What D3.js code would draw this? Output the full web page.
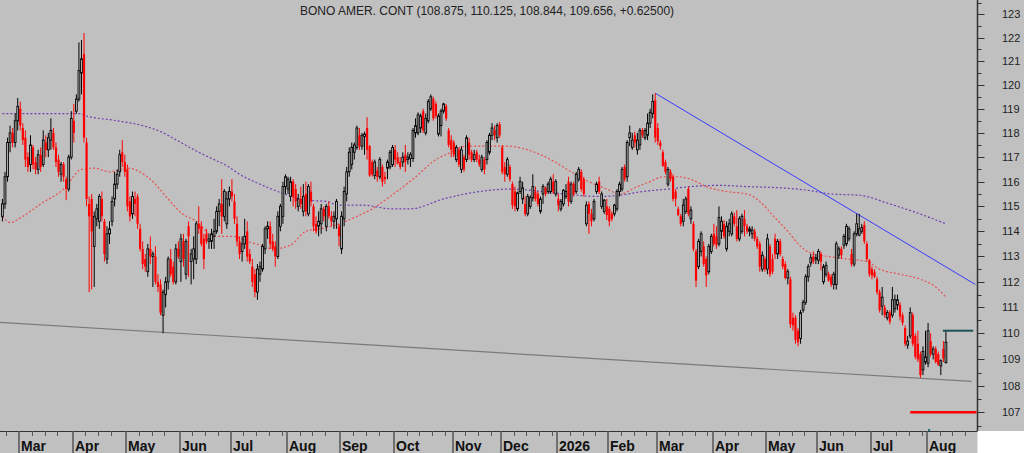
<!DOCTYPE html>
<html>
<head>
<meta charset="utf-8">
<script src="https://cdn.jsdelivr.net/npm/d3@7"></script>
<style>
html, body { margin: 0; padding: 0; background: #fff; }
svg { display: block; font-family: "Liberation Sans", Arial, sans-serif; }
</style>
</head>
<body>
<svg id="chart"></svg>
<script>
// ---- data ----
const title = "BONO AMER. CONT (108.875, 110.125, 108.844, 109.656, +0.62500)"

// months shown on the time axis and how many daily bars each one holds
const monthLabels = ["", "Mar", "Apr", "May", "Jun", "Jul", "Aug", "Sep", "Oct", "Nov", "Dec",
  "2026", "Feb", "Mar", "Apr", "May", "Jun", "Jul", "Aug"]
const monthBars = [7, 21, 21, 21, 20, 22, 21, 21, 23, 19, 22, 20, 19, 22, 21, 20, 21, 22, 8]

// daily bars: [open, high, low, close]
const candles = [
  // Feb 2025
  [114.6,115.3,114.4,115.1],[115.1,116.4,114.9,116.2],[116.2,117.8,116.0,117.6],[117.6,118.3,117.2,118.0],
  [118.0,118.2,117.4,117.6],[117.6,118.8,117.4,118.5],[118.5,119.45,118.1,119.1],
  // Mar 2025
  [119.0,119.3,118.1,118.3],[118.2,118.4,117.5,117.7],[117.8,118.1,116.6,116.9],[117.0,117.2,116.4,116.6],
  [116.7,117.9,116.4,117.5],[117.4,117.5,116.5,116.7],[116.8,117.0,116.3,116.5],[116.5,117.3,116.3,117.1],
  [117.1,117.4,116.4,116.6],[116.7,118.1,116.6,117.7],[117.6,117.9,117.0,117.3],[117.3,118.0,117.0,117.8],
  [117.7,118.6,117.3,118.1],[118.0,118.2,117.3,117.4],[117.4,117.6,116.6,116.8],[116.9,117.1,116.2,116.4],
  [116.3,116.8,116.0,116.7],[116.7,116.8,116.0,116.2],[116.1,116.2,115.25,115.7],[115.7,117.1,115.6,117.0],
  [117.0,118.9,116.9,118.6],
  // Apr 2025
  [118.5,119.2,117.6,118.0],[118.9,119.6,118.8,119.4],[119.4,121.8,119.3,120.6],[120.5,121.9,119.6,121.1],
  [121.3,122.2,117.6,117.8],[117.6,117.8,115.0,115.3],[115.1,115.4,111.6,114.6],[115.3,115.5,111.7,114.0],
  [113.4,114.8,111.8,114.6],[114.5,115.1,114.2,114.9],[114.4,115.5,114.1,115.4],[115.3,115.6,114.4,114.6],
  [114.4,114.5,112.8,113.1],[112.9,114.2,112.7,113.9],[113.9,114.4,113.5,114.1],[114.4,115.4,114.2,115.2],
  [115.3,116.4,115.0,115.9],[115.9,116.5,115.7,116.3],[116.4,117.3,116.2,117.1],[117.2,117.7,116.6,116.8],
  [116.8,117.1,116.2,116.4],
  // May 2025
  [116.5,116.7,114.8,115.0],[115.2,115.4,114.4,114.6],[114.7,115.6,114.5,115.4],[115.3,115.6,114.6,115.1],
  [115.4,115.5,114.1,114.3],[114.1,114.3,113.2,113.3],[113.3,113.6,112.5,112.7],[112.9,113.1,112.4,112.6],
  [112.4,113.5,112.2,113.3],[113.3,113.8,112.7,113.0],[113.0,113.2,111.8,113.1],[113.0,113.4,111.9,112.0],
  [112.0,112.3,111.6,111.8],[111.9,112.1,110.7,110.8],[110.7,111.7,110.0,111.6],[111.5,112.2,111.0,112.0],
  [112.0,113.0,111.7,112.9],[112.9,113.3,112.2,112.3],[112.6,112.8,111.9,112.0],[112.0,113.5,111.9,113.3],
  [113.3,113.6,112.9,113.0],
  // Jun 2025
  [112.8,113.9,112.0,113.7],[113.6,113.9,112.6,112.9],[112.3,113.7,112.1,113.6],[114.2,114.4,112.2,113.8],
  [112.8,113.3,111.9,113.1],[112.9,113.8,112.1,113.3],[112.9,114.4,112.7,114.3],[114.3,115.0,113.9,114.1],
  [114.2,114.4,113.4,113.5],[113.7,113.9,112.5,112.9],[113.9,114.1,113.5,113.6],[113.6,113.9,113.3,113.7],
  [113.6,114.1,113.3,113.9],[113.8,114.5,113.3,114.0],[114.0,115.0,113.9,114.8],[114.8,115.3,114.2,115.1],
  [115.1,116.1,113.9,114.6],[114.6,115.7,114.4,115.6],[114.3,115.6,114.1,115.3],[115.3,115.8,115.0,115.6],
  // Jul 2025
  [115.6,116.1,115.2,115.4],[115.2,115.5,114.3,114.5],[114.3,114.6,113.4,113.6],[113.6,113.8,112.9,113.1],
  [113.2,113.8,112.8,113.5],[113.5,114.5,113.3,113.8],[114.0,114.4,112.8,113.0],[113.1,113.3,112.7,112.8],
  [112.6,112.9,111.8,112.0],[112.3,112.5,111.4,111.6],[111.6,112.7,111.3,112.5],[112.3,112.8,112.0,112.6],
  [112.5,113.5,112.4,113.4],[113.3,114.2,113.1,114.1],[114.1,114.4,113.7,114.2],[114.2,114.4,113.3,113.5],
  [113.6,113.9,113.2,113.3],[113.4,113.6,112.6,113.0],[113.0,114.8,112.9,114.6],[114.2,115.1,114.0,115.0],
  [114.6,116.0,114.3,115.8],[115.8,116.3,115.5,116.2],
  // Aug 2025
  [115.7,116.2,115.5,116.1],[115.4,116.2,115.2,116.0],[116.0,116.1,115.0,115.4],[115.7,115.9,114.9,115.2],
  [115.0,115.5,114.8,115.3],[115.3,115.8,114.9,115.1],[114.8,115.9,114.6,115.4],[115.5,116.0,114.6,114.8],
  [114.7,115.9,114.6,115.8],[115.6,116.0,115.0,115.2],[115.0,115.1,114.0,114.2],[114.3,114.6,113.9,114.0],
  [114.2,114.8,113.8,114.4],[114.3,115.1,113.9,114.9],[114.9,115.0,114.4,114.6],[114.2,115.1,114.0,115.0],
  [115.0,115.2,114.5,114.6],[114.6,114.8,114.2,114.4],[114.4,114.8,114.1,114.6],[114.5,115.3,114.1,115.2],
  [114.2,114.3,113.4,113.8],
  // Sep 2025
  [113.3,114.8,113.1,114.6],[114.5,115.8,114.2,115.6],[115.5,116.6,115.2,116.4],[116.4,117.4,116.2,117.2],
  [116.7,117.6,116.5,117.4],[117.2,117.6,116.9,117.5],[117.4,118.3,117.3,118.2],[117.9,118.2,117.3,117.45],
  [117.45,118.0,117.3,117.9],[117.85,118.05,117.1,117.95],[118.2,118.65,116.9,117.3],[117.45,117.5,116.2,116.25],
  [116.8,116.9,116.2,116.3],[116.25,116.9,116.1,116.8],[116.45,116.6,116.0,116.2],[116.2,117.0,116.1,116.9],
  [116.6,116.7,115.8,116.0],[116.2,116.4,115.9,116.1],[116.55,116.9,116.1,116.8],[116.6,117.3,116.5,117.2],
  [116.7,117.5,116.6,117.4],
  // Oct 2025
  [117.3,117.5,116.6,116.9],[117.0,117.2,116.7,116.75],[116.8,117.0,116.5,116.6],[116.8,117.2,116.6,117.0],
  [117.1,117.5,116.4,116.8],[116.9,117.2,116.7,117.0],[116.95,117.2,116.6,117.1],[116.95,118.2,116.8,118.1],
  [118.0,118.6,117.8,118.3],[118.0,118.85,117.9,118.75],[118.2,118.8,118.0,118.7],[118.9,119.0,118.0,118.1],
  [118.0,118.8,117.9,118.6],[118.5,119.4,118.4,119.3],[119.0,119.6,118.9,119.5],[119.4,119.5,118.5,118.6],
  [119.2,119.3,118.6,118.7],[117.95,118.8,117.85,118.7],[118.3,119.0,117.85,118.9],[118.9,119.25,118.8,119.2],
  [119.1,119.2,118.5,118.6],[118.1,118.2,117.4,117.5],[117.7,117.9,117.0,117.3],
  // Nov 2025
  [117.6,117.7,117.0,117.1],[116.9,117.5,116.8,117.4],[117.3,117.4,116.6,116.7],[116.5,117.45,116.35,117.3],
  [117.0,117.1,116.4,116.5],[116.9,117.9,116.8,117.8],[117.6,117.8,116.9,117.1],[117.2,117.3,116.8,116.9],
  [116.9,117.3,116.8,117.1],[117.2,117.3,116.8,116.9],[116.9,117.1,116.6,116.7],[116.5,117.1,116.4,117.0],
  [116.9,117.0,116.3,116.5],[116.9,117.7,116.7,117.6],[117.2,118.0,117.1,117.9],[117.9,118.4,117.7,118.2],
  [118.1,118.3,117.7,117.9],[117.8,118.4,117.6,118.3],[118.35,118.45,117.8,117.9],
  // Dec 2025
  [117.4,117.5,116.3,116.4],[116.6,116.8,116.0,116.3],[116.3,117.0,116.2,116.9],[116.6,116.7,116.0,116.1],
  [115.9,116.0,114.9,115.05],[115.6,115.8,114.8,115.0],[114.9,115.6,114.8,115.55],[115.6,116.2,115.5,116.0],
  [115.3,116.0,115.1,115.75],[115.1,115.4,114.6,114.7],[114.7,115.5,114.6,115.4],[115.0,115.45,114.9,115.35],
  [115.35,116.3,115.2,115.8],[115.6,115.8,115.2,115.3],[115.5,115.6,115.0,115.1],[114.8,115.4,114.7,115.3],
  [115.5,115.9,115.1,115.8],[115.75,115.8,115.4,115.5],[115.6,116.0,115.5,115.9],[115.6,116.2,115.5,116.1],
  [116.0,116.3,115.5,115.6],[115.5,116.1,115.4,116.0],
  // Jan 2026
  [115.3,115.5,114.8,115.05],[114.9,115.3,114.8,115.2],[115.1,115.7,115.0,115.65],[115.4,115.9,115.3,115.6],
  [116.0,116.2,115.0,115.2],[115.2,116.0,115.1,115.9],[115.9,116.0,115.4,115.5],[115.6,116.4,115.5,116.3],
  [116.1,116.6,116.0,116.5],[116.4,116.5,115.6,115.7],[116.1,116.2,115.4,115.5],[114.3,115.2,114.2,115.05],
  [115.1,115.2,113.9,114.7],[114.7,114.9,114.2,114.4],[114.5,115.3,114.4,115.2],[115.6,116.0,115.5,115.9],
  [116.0,116.2,115.5,115.6],[115.0,115.6,114.9,115.5],[114.8,115.3,114.7,115.25],[115.0,115.3,114.45,114.65],
  // Feb 2026
  [114.9,115.0,114.2,114.4],[114.7,114.8,114.4,114.5],[114.7,115.1,114.6,115.05],[114.9,115.7,114.8,115.6],
  [115.6,116.0,115.4,115.9],[115.7,116.6,115.6,116.5],[116.6,116.7,116.0,116.1],[116.2,117.7,116.0,117.6],
  [117.8,118.3,117.45,118.0],[117.4,118.0,117.3,117.7],[117.9,118.05,117.4,117.6],[117.3,118.0,117.1,117.7],
  [117.5,118.2,117.3,118.1],[118.1,118.2,117.8,117.9],[117.8,118.2,117.7,118.1],[117.9,118.8,117.7,118.4],
  [118.4,119.0,118.2,118.85],[118.8,119.6,118.6,119.3],[119.35,119.65,117.6,117.8],
  // Mar 2026
  [118.2,118.4,117.5,117.65],[117.6,117.7,117.3,117.45],[117.2,117.3,116.6,116.65],[116.8,116.9,116.3,116.4],
  [115.9,116.6,115.8,116.5],[116.4,116.5,116.0,116.1],[116.2,116.3,115.2,115.3],[115.6,115.7,115.0,115.3],
  [114.9,115.0,114.6,114.65],[114.6,114.7,114.2,114.3],[114.4,115.3,114.2,115.05],[114.8,115.4,114.7,115.3],
  [115.7,115.8,114.6,114.7],[114.5,115.0,114.3,114.85],[114.3,114.4,113.2,113.3],[113.2,113.3,111.8,112.05],
  [112.6,113.7,112.5,113.6],[113.2,114.0,113.0,113.9],[113.4,113.6,112.6,112.7],[112.9,113.0,111.8,112.25],
  [112.4,113.5,112.3,113.4],[113.2,113.9,113.1,113.8],
  // Apr 2026
  [113.9,114.3,113.4,113.5],[113.8,114.2,113.3,113.45],[113.5,115.0,113.4,114.55],[114.0,114.6,113.7,114.4],
  [114.3,114.45,113.7,113.8],[113.3,114.4,113.2,114.2],[114.0,114.5,113.8,114.3],[113.9,114.8,113.8,114.7],
  [114.6,114.75,114.2,114.3],[114.2,114.85,113.6,113.7],[113.7,114.6,113.6,114.5],[114.0,114.7,113.9,114.6],
  [114.5,114.85,113.8,114.2],[114.2,114.3,113.9,114.0],[114.0,114.2,113.8,114.1],[113.9,114.2,113.7,114.05],
  [114.0,114.1,113.6,113.7],[113.7,113.8,113.3,113.4],[113.5,113.6,112.4,112.6],[112.5,113.2,112.4,113.05],
  [112.9,113.0,112.4,112.5],
  // May 2026
  [112.5,113.9,112.3,113.7],[113.4,113.5,112.2,112.3],[112.9,113.1,112.3,112.4],[113.7,113.9,112.9,113.1],
  [113.1,113.7,112.9,113.6],[113.6,113.7,113.0,113.1],[112.9,113.0,112.5,112.6],[112.7,112.8,112.1,112.15],
  [112.15,112.5,111.9,112.4],[112.1,112.2,110.2,110.35],[110.6,110.8,110.1,110.3],[110.6,110.7,109.6,109.75],
  [110.1,110.2,109.5,109.65],[109.8,110.9,109.6,110.8],[110.9,111.3,110.8,111.2],[111.2,112.3,111.1,112.2],
  [112.2,112.7,112.0,112.6],[112.75,113.1,112.6,112.95],[113.0,113.2,112.7,112.8],[112.9,113.1,112.7,112.95],
  // Jun 2026
  [112.85,113.3,112.7,113.2],[113.1,113.2,112.45,112.8],[112.0,112.7,111.9,112.6],[112.3,112.8,112.2,112.65],
  [112.3,112.4,112.0,112.05],[112.2,112.3,111.8,111.9],[111.9,112.4,111.7,112.3],[111.9,113.6,111.7,113.5],
  [113.05,113.4,112.9,113.3],[113.3,113.4,112.9,113.05],[113.45,113.9,113.3,113.8],[113.5,114.3,113.4,114.2],
  [113.7,114.2,113.6,114.1],[113.1,113.3,112.6,112.7],[112.7,114.0,112.6,113.9],[113.9,114.7,113.8,114.3],
  [113.85,114.7,113.8,114.1],[114.0,114.3,113.9,114.15],[114.25,114.4,113.5,113.6],[113.5,113.6,112.8,112.9],
  [112.85,112.9,112.2,112.3],
  // Jul 2026
  [112.5,112.6,112.1,112.25],[112.4,112.5,112.15,112.2],[112.1,112.2,111.5,111.6],[111.6,111.7,110.8,110.9],
  [111.05,111.8,110.7,111.4],[111.0,111.1,110.6,110.7],[110.6,110.9,110.5,110.8],[110.8,110.9,110.35,110.45],
  [110.7,111.8,110.6,111.3],[110.95,111.5,110.8,111.3],[111.1,111.5,110.9,111.3],[111.1,111.2,110.5,110.65],
  [110.7,110.8,110.3,110.4],[110.2,110.3,109.5,109.6],[109.55,109.9,109.4,109.7],[109.9,111.0,109.8,110.8],
  [110.7,110.8,109.5,109.6],[109.9,110.0,109.0,109.1],[109.6,110.1,108.9,109.0],[109.2,109.3,108.3,108.4],
  [108.6,109.5,108.4,109.3],[108.9,110.1,108.8,109.1],
  // Aug 2026
  [108.85,110.4,108.7,110.1],[109.7,110.0,109.1,109.2],[109.2,109.5,109.0,109.4],[109.4,109.5,108.85,108.9],
  [109.2,109.3,108.75,108.8],[108.75,109.0,108.4,108.95],[109.4,109.7,108.9,109.03],
  [108.875,110.125,108.844,109.656]
]

// moving averages sampled at bar positions
const fastAt  = [0, 3, 8, 15, 24, 31, 36, 42, 45, 49, 58, 65, 70, 76, 83, 90, 96, 101, 106, 113, 119, 127, 132,
  139, 145, 152, 161, 170, 176, 182, 190, 198, 206, 211, 215, 223, 229, 237, 242, 249, 254, 259, 265, 271, 276,
  284, 292, 297, 302, 308, 313, 318, 324, 331, 339, 344, 352, 360, 366, 370]
const fastVal = [114.6, 114.35, 114.6, 115.1, 115.7, 116.5, 116.55, 116.4, 116.45, 116.55, 116.1, 115.3, 114.75,
  114.4, 113.8, 113.8, 113.6, 113.45, 113.3, 113.45, 114.0, 114.15, 114.3, 114.6, 114.9, 115.4, 116.1, 116.9,
  117.2, 117.45, 117.45, 117.45, 117.3, 117.1, 116.9, 116.4, 116.05, 115.7, 115.5, 115.8, 116.0, 116.2, 116.2,
  116.05, 115.8, 115.6, 115.5, 115.2, 114.65, 114.0, 113.4, 113.1, 113.0, 112.9, 112.8, 112.5, 112.3, 112.1,
  111.8, 111.4]
const slowAt  = [0, 30, 33, 45, 55, 62, 70, 77, 83, 88, 93, 101, 112, 119, 127, 132, 141, 153, 160, 173, 187,
  199, 212, 225, 234, 242, 251, 261, 270, 281, 292, 305, 316, 325, 336, 348, 357, 370]
const slowVal = [118.8, 118.8, 118.7, 118.5, 118.3, 118.05, 117.6, 117.2, 116.9, 116.65, 116.3, 115.9, 115.45,
  115.25, 115.2, 115.05, 115.05, 114.9, 114.9, 115.3, 115.6, 115.7, 115.6, 115.45, 115.4, 115.45, 115.6, 115.7,
  115.8, 115.85, 115.8, 115.75, 115.65, 115.5, 115.45, 115.1, 114.8, 114.3]

// drawn trend lines: [bar, price] end points
const supportLine = [[-1, 110.42], [380, 108.16]]
const resistLine  = [[256, 119.65], [381.5, 111.9]]
const upperLevel  = [[368.8, 110.1], [380.7, 110.1]]
const lowerLevel  = [[356, 107.0], [382, 107.0]]
const priceTicks  = d3.range(107, 124)

// ---- drawing ----
const width = 1024, height = 453
const axisX = 977.5, axisY = 431
const slots = 383

const svg = d3.select('#chart').attr('width', width).attr('height', height)

svg.append('rect').attr('width', width).attr('height', height).attr('fill', '#c0c0c0')
svg.append('rect').attr('x', axisX).attr('y', axisY).attr('width', width - axisX).attr('height', height - axisY)
  .attr('fill', '#ffffff')

const x = d3.scaleLinear().domain([0, slots]).range([1.15, 1.15 + slots * 2.55])
const y = d3.scaleLog().domain([106.30, 123.62]).range([axisY, 0])
const cx = i => x(i + 0.5)

// month separators, weekly ticks and labels
const starts = []
let acc = 0
monthBars.forEach(n => { starts.push(acc); acc += n })

const weekTicks = []
starts.forEach((s, k) => {
  const next = k + 1 < starts.length ? starts[k + 1] : slots
  if (k === 0) {
    for (let t = next - 5; t > 0; t -= 5) weekTicks.push(t)
  } else {
    for (let t = s + 5; t < next - 1; t += 5) weekTicks.push(t)
  }
})

const xAxis = svg.append('g')
xAxis.append('line').attr('x1', 0).attr('x2', axisX).attr('y1', axisY + 0.5).attr('y2', axisY + 0.5)
  .attr('stroke', '#333').attr('stroke-width', 1)
xAxis.selectAll('line.wk').data(weekTicks).enter().append('line').attr('class', 'wk')
  .attr('x1', d => Math.round(x(d)) + 0.5).attr('x2', d => Math.round(x(d)) + 0.5)
  .attr('y1', axisY).attr('y2', axisY + 5)
  .attr('stroke', '#555').attr('stroke-width', 1)
const months = starts.map((s, k) => ({ s, label: monthLabels[k] })).filter(d => d.label !== '')
xAxis.selectAll('line.mo').data(months).enter().append('line').attr('class', 'mo')
  .attr('x1', d => Math.round(x(d.s))).attr('x2', d => Math.round(x(d.s)))
  .attr('y1', axisY).attr('y2', height)
  .attr('stroke', '#555').attr('stroke-width', 1.5)
xAxis.selectAll('text').data(months).enter().append('text')
  .attr('x', d => Math.round(x(d.s)) + 2).attr('y', 450.5)
  .attr('font-size', 14).attr('font-weight', 'bold').attr('fill', '#111')
  .text(d => d.label)

// price axis on the right
const yAxis = svg.append('g')
yAxis.append('line').attr('x1', axisX).attr('x2', axisX).attr('y1', 0).attr('y2', axisY)
  .attr('stroke', '#333').attr('stroke-width', 1.5)
yAxis.selectAll('line.mj').data(priceTicks).enter().append('line').attr('class', 'mj')
  .attr('x1', axisX).attr('x2', axisX + 7)
  .attr('y1', d => Math.round(y(d)) + 0.5).attr('y2', d => Math.round(y(d)) + 0.5)
  .attr('stroke', '#333')
yAxis.selectAll('line.mn').data(priceTicks.map(d => d - 0.5).concat([123.5])).enter().append('line').attr('class', 'mn')
  .attr('x1', axisX).attr('x2', axisX + 4)
  .attr('y1', d => Math.round(y(d)) + 0.5).attr('y2', d => Math.round(y(d)) + 0.5)
  .attr('stroke', '#333')
yAxis.selectAll('text').data(priceTicks).enter().append('text')
  .attr('x', 1002).attr('y', d => y(d)).attr('dy', '0.36em')
  .attr('font-size', 11).attr('fill', '#222')
  .text(d => d)

// title
svg.append('text').attr('x', 487).attr('y', 15).attr('text-anchor', 'middle')
  .attr('font-size', 12).attr('fill', '#222').text(title)

// moving averages
const maLine = d3.line().x(d => cx(d[0])).y(d => y(d[1])).curve(d3.curveMonotoneX)
svg.append('path').datum(slowAt.map((a, k) => [a, slowVal[k]]))
  .attr('d', maLine).attr('fill', 'none').attr('stroke', '#7040b0')
  .attr('stroke-width', 1.2).attr('stroke-dasharray', '2,2')
svg.append('path').datum(fastAt.map((a, k) => [a, fastVal[k]]))
  .attr('d', maLine).attr('fill', 'none').attr('stroke', '#e85050')
  .attr('stroke-width', 1.2).attr('stroke-dasharray', '2,2')

// trend lines
const straight = d3.line().x(d => cx(d[0])).y(d => y(d[1]))
svg.append('path').datum(supportLine).attr('d', straight)
  .attr('stroke', '#7a7a7a').attr('stroke-width', 1.2).attr('fill', 'none')
svg.append('path').datum(resistLine).attr('d', straight)
  .attr('stroke', '#3a3aff').attr('stroke-width', 1).attr('fill', 'none')

// candles
const bars = svg.append('g').selectAll('g').data(candles).enter().append('g')
bars.append('line')
  .attr('x1', (d, i) => cx(i)).attr('x2', (d, i) => cx(i))
  .attr('y1', d => y(d[1])).attr('y2', d => y(d[2]))
  .attr('stroke', d => d[3] >= d[0] ? '#000' : '#ff0000').attr('stroke-width', 1)
bars.append('rect')
  .attr('x', (d, i) => cx(i) - (d[3] >= d[0] ? 0.9 : 1.1))
  .attr('width', d => d[3] >= d[0] ? 1.8 : 2.2)
  .attr('y', d => y(Math.max(d[0], d[3])))
  .attr('height', d => Math.max(1, Math.abs(y(d[0]) - y(d[3]))))
  .attr('fill', d => d[3] >= d[0] ? '#c0c0c0' : '#ff0000')
  .attr('stroke', d => d[3] >= d[0] ? '#000' : 'none')
  .attr('stroke-width', 0.9)

// level markers at the right
svg.append('path').datum(upperLevel).attr('d', straight)
  .attr('stroke', '#1f5252').attr('stroke-width', 2).attr('fill', 'none')
svg.append('path').datum(lowerLevel).attr('d', straight)
  .attr('stroke', '#ff0000').attr('stroke-width', 2.5).attr('fill', 'none')
svg.append('rect').attr('x', cx(363.4) - 1).attr('y', axisY - 2).attr('width', 2).attr('height', 2)
  .attr('fill', '#1f7070')
</script>
</body>
</html>
